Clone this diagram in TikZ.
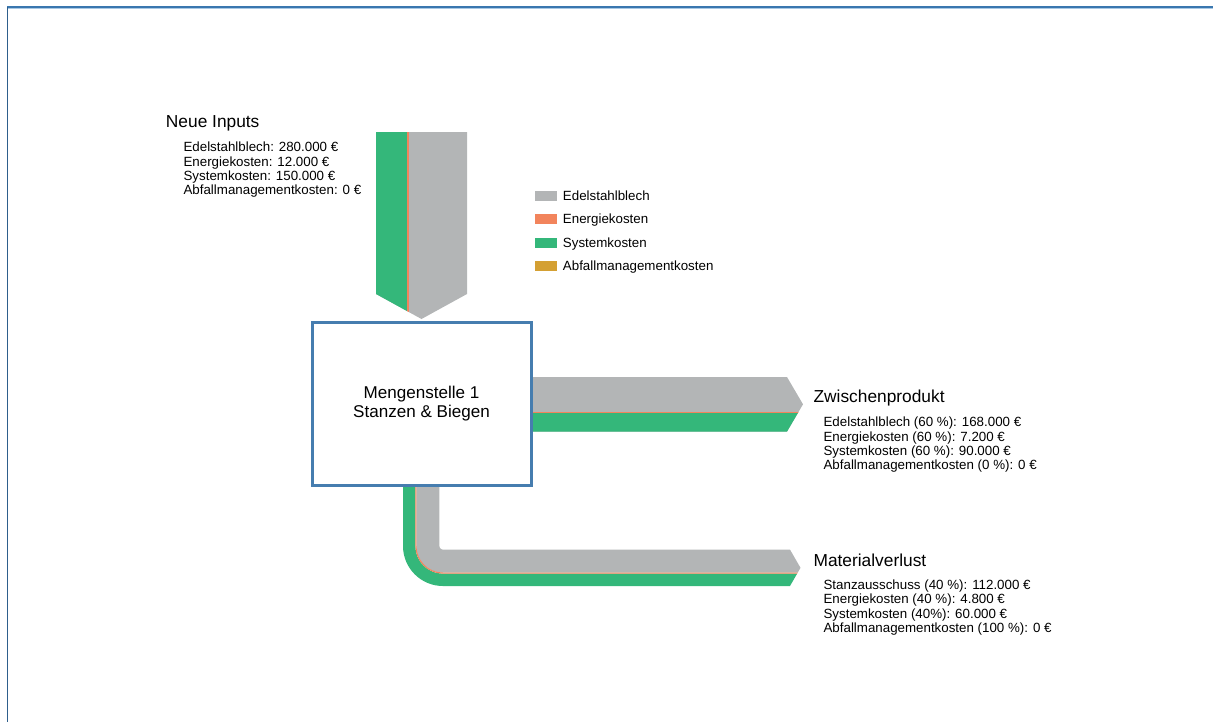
\documentclass[tikz,border=0pt]{standalone}
\usepackage{fontspec}
\setmainfont{Liberation Sans}
\definecolor{cgray}{HTML}{B3B5B6}
\definecolor{cgreen}{HTML}{34B77A}
\definecolor{corange}{HTML}{F2845C}
\definecolor{cgold}{HTML}{D4A033}
\definecolor{cbox}{HTML}{467DAF}
\definecolor{cframe}{HTML}{3A77AF}
\definecolor{cframelight}{HTML}{A9C8E4}
\tikzset{
  title/.style={anchor=base west, inner sep=0pt, font=\fontsize{13}{15}\selectfont},
  sub/.style={anchor=base west, inner sep=0pt, font=\fontsize{10}{12}\selectfont},
  swatch/.style={minimum width=16.5pt, minimum height=7.5pt, inner sep=0pt},
  stationbox/.style={draw=cbox, line width=2.25pt, fill=white, minimum width=164.25pt, minimum height=122.6pt, inner sep=0pt, align=center, font=\fontsize{12.8}{13.9}\selectfont},
}
\begin{document}
\begin{tikzpicture}[x=0.75pt,y=-0.75pt]
\useasboundingbox (0,0) rectangle (1213,722);
% frame
\draw[cframelight, line width=0.75pt] (7,8.8) -- (1213,8.8);
\draw[cframe, line width=1.5pt] (7,7) -- (1213,7);
\draw[cframe!80!black, line width=0.75pt] (7.5,7) -- (7.5,722);

% input flow
\begin{scope}
  \clip (376,132) -- (467,132) -- (467,294) -- (421.5,319) -- (376,294) -- cycle;
  \fill[cgray] (370,125) rectangle (470,325);
  \fill[cgreen] (370,125) rectangle (406.9,325);
  \fill[corange] (406.9,125) rectangle (409.4,325);
\end{scope}

% Zwischenprodukt flow
\begin{scope}
  \clip (525,377) -- (787,377) -- (803,404.3) -- (787,431.6) -- (525,431.6) -- cycle;
  \fill[cgray] (520,370) rectangle (810,440);
  \fill[corange] (520,411.6) rectangle (810,413.1);
  \fill[cgreen] (520,413.1) rectangle (810,440);
\end{scope}

% Materialverlust flow
\begin{scope}
  \clip (380,470) -- (790,470) -- (790,549.6) -- (800.5,567.8) -- (790,586) -- (790,600) -- (380,600) -- cycle;
  \draw[cgray, line width=17.25pt, rounded corners=15.1*0.75pt] (427.9,480) -- (427.9,561.1) -- (815,561.1);
  \draw[cgreen, line width=9.3pt, rounded corners=33.8*0.75pt] (409.2,480) -- (409.2,579.8) -- (815,579.8);
  \draw[corange, line width=0.85pt, rounded corners=27.1*0.75pt] (415.9,480) -- (415.9,573.1) -- (815,573.1);
\end{scope}

% station box
\node[stationbox] (box) at (421.5,403.75) {Mengenstelle 1\\Stanzen \& Biegen};

% Neue Inputs labels
\node[title] (inT) at (165.7,127.3) {Neue Inputs};
\node[sub] (in1) at (183.3,151.7) {Edelstahlblech: 280.000 €};
\node[sub] (in2) at (183.3,166.0) {Energiekosten: 12.000 €};
\node[sub] (in3) at (183.3,180.3) {Systemkosten: 150.000 €};
\node[sub] (in4) at (183.3,194.6) {Abfallmanagementkosten: 0 €};

% legend
\node[swatch, fill=cgray] (lg1) at (546,196) {};
\node[swatch, fill=corange] (lg2) at (546,219.3) {};
\node[swatch, fill=cgreen] (lg3) at (546,242.6) {};
\node[swatch, fill=cgold] (lg4) at (546,266) {};
\node[sub] (lt1) at (562.7,200.5) {Edelstahlblech};
\node[sub] (lt2) at (562.7,223.8) {Energiekosten};
\node[sub] (lt3) at (562.7,247.1) {Systemkosten};
\node[sub] (lt4) at (562.7,270.5) {Abfallmanagementkosten};

% Zwischenprodukt labels
\node[title] (zwT) at (813.3,402.3) {Zwischenprodukt};
\node[sub] (zw1) at (823.3,426.7) {Edelstahlblech (60 \%): 168.000 €};
\node[sub] (zw2) at (823.3,441.0) {Energiekosten (60 \%): 7.200 €};
\node[sub] (zw3) at (823.3,455.3) {Systemkosten (60 \%): 90.000 €};
\node[sub] (zw4) at (823.3,469.6) {Abfallmanagementkosten (0 \%): 0 €};

% Materialverlust labels
\node[title] (mvT) at (813.3,566.0) {Materialverlust};
\node[sub] (mv1) at (823.3,589.5) {Stanzausschuss (40 \%): 112.000 €};
\node[sub] (mv2) at (823.3,603.8) {Energiekosten (40 \%): 4.800 €};
\node[sub] (mv3) at (823.3,618.1) {Systemkosten (40\%): 60.000 €};
\node[sub] (mv4) at (823.3,632.4) {Abfallmanagementkosten (100 \%): 0 €};
\end{tikzpicture}
\end{document}
